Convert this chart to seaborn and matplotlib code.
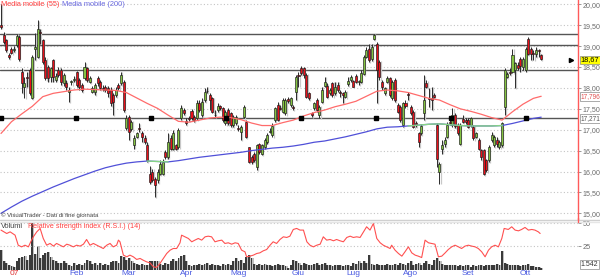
import numpy as np
import pandas as pd
import matplotlib
matplotlib.use("Agg")
import matplotlib.pyplot as plt
import seaborn as sns

# ---------------- data ----------------
opens = [19.50,19.26,19.14,18.78,18.92,18.90,19.02,19.21,18.39,18.01,18.25,18.43,17.77,18.93,18.75,19.33,19.14,18.66,18.51,18.25,
         18.66,18.20,18.44,18.43,18.11,18.12,17.91,18.14,18.20,18.39,18.19,18.07,18.23,18.47,18.15,17.91,17.91,18.23,18.15,17.99,
         18.01,17.99,17.96,17.83,17.83,18.07,18.11,18.15,17.03,17.31,17.01,16.63,16.83,17.04,16.93,
         16.79,16.63,15.95,15.99,15.83,15.79,15.95,15.95,16.47,16.35,16.79,16.55,16.63,16.59,17.27,17.47,17.21,17.27,17.45,17.31,
         17.27,17.63,17.35,17.71,17.93,17.83,17.76,17.36,17.47,17.56,17.51,17.15,17.47,17.39,17.11,17.15,17.04,16.95,17.31,17.19,
         16.58,16.35,16.42,16.11,16.66,16.43,16.59,16.71,16.94,16.87,17.23,17.59,17.52,17.43,17.39,17.73,17.59,
         17.53,17.91,18.31,18.47,18.47,18.31,17.87,17.39,17.51,17.71,17.35,17.67,18.04,18.04,17.87,18.11,17.87,18.07,17.89,17.87,
         17.79,18.09,18.19,18.16,18.29,18.15,18.15,18.33,18.74,18.94,18.68,19.18,19.06,18.62,18.15,17.87,18.15,18.23,17.75,18.19,
         17.59,17.55,17.11,17.64,17.85,17.55,17.43,17.17,16.91,16.91,17.39,18.11,17.76,17.77,
         17.83,17.11,15.99,16.53,16.66,16.83,17.19,17.11,17.35,17.11,16.67,17.25,17.23,17.23,17.11,17.07,16.83,16.75,16.51,16.51,
         16.27,16.27,16.75,16.63,16.75,16.59,16.63,17.55,18.27,18.37,18.39,18.43,18.55,18.68,18.51,18.43,19.18,18.94,18.83,18.82,
         18.90,18.78]
closes = [19.46,19.10,18.90,18.73,18.84,18.94,19.24,18.68,18.11,18.11,18.23,17.88,18.73,18.98,19.42,19.32,18.62,18.23,18.23,18.47,
          18.27,18.28,18.31,18.15,18.31,18.01,17.96,18.15,18.21,18.07,18.01,17.95,18.51,18.19,18.23,17.99,18.07,18.11,17.99,17.98,
          17.95,17.87,17.63,17.67,17.95,17.99,18.31,17.47,17.27,16.95,17.19,16.81,16.91,17.02,16.83,
          16.71,16.27,15.75,15.79,15.67,15.99,16.19,16.23,16.35,16.71,16.55,16.91,16.55,16.99,17.53,17.39,17.15,17.25,17.27,17.23,
          17.63,17.47,17.67,17.91,17.92,17.71,17.43,17.34,17.56,17.51,17.23,17.43,17.15,17.11,17.31,17.31,17.02,17.07,17.55,16.83,
          16.23,16.23,16.27,16.63,16.47,16.63,16.75,16.87,16.96,17.09,17.51,17.23,17.50,17.71,17.71,17.68,17.75,
          17.52,18.27,18.29,18.35,18.31,17.79,17.75,17.35,17.63,17.47,17.55,17.95,18.15,17.79,17.95,17.83,18.01,17.95,17.88,17.83,
          17.91,18.16,18.27,18.03,18.15,18.17,18.35,18.73,18.90,18.66,18.98,19.26,18.43,18.25,18.01,17.99,18.23,17.83,18.15,17.71,
          17.43,17.23,17.63,17.56,17.84,17.39,17.07,17.11,16.71,17.09,17.71,18.03,17.74,17.72,
          17.79,16.29,16.19,16.63,16.75,17.11,17.15,17.35,17.09,16.91,17.11,17.19,17.19,17.07,17.27,16.79,16.93,16.55,16.35,15.95,
          16.03,16.59,16.87,16.83,16.67,16.71,17.15,18.43,18.33,18.35,18.78,18.59,18.47,18.52,18.68,18.94,18.82,18.82,18.82,18.90,
          18.89,18.68]
highs = [20.00,19.34,19.18,18.84,18.98,19.00,19.30,19.26,18.47,18.27,18.39,18.47,18.79,19.31,19.62,19.42,19.18,18.74,18.55,18.51,
         18.70,18.35,18.51,18.47,18.35,18.19,18.03,18.20,18.28,18.41,18.23,18.11,18.62,18.51,18.28,18.04,18.11,18.28,18.19,18.07,
         18.07,18.04,18.01,17.87,18.03,18.11,18.39,18.19,17.35,17.35,17.23,16.87,16.95,17.15,16.97,
         16.87,16.71,16.12,16.07,15.87,16.07,16.27,16.29,16.51,16.91,16.87,16.99,16.67,17.03,17.59,17.51,17.27,17.33,17.49,17.35,
         17.71,17.71,17.75,17.99,18.03,17.87,17.79,17.47,17.63,17.59,17.55,17.47,17.51,17.43,17.35,17.35,17.11,17.11,17.59,17.23,
         16.59,16.39,16.47,16.67,16.69,16.67,16.79,16.91,17.03,17.15,17.55,17.67,17.59,17.75,17.75,17.79,17.79,
         17.59,18.31,18.39,18.52,18.51,18.35,17.91,17.43,17.67,17.75,17.59,18.03,18.27,18.11,17.99,18.15,18.15,18.15,17.95,17.91,
         17.95,18.27,18.31,18.20,18.33,18.20,18.43,18.79,18.98,19.06,19.06,19.30,19.10,18.66,18.19,18.03,18.28,18.27,18.19,18.23,
         17.63,17.59,17.67,17.71,17.91,17.59,17.47,17.21,16.95,17.13,18.31,18.19,17.99,18.03,
         17.87,17.15,16.23,16.75,16.83,17.19,17.23,17.51,17.39,17.15,17.15,17.35,17.29,17.27,17.31,17.11,16.95,16.79,16.55,16.55,
         16.31,16.63,16.95,16.87,16.83,16.75,17.19,18.47,18.39,18.47,18.94,18.63,18.63,18.74,18.74,18.98,19.22,18.98,18.90,18.98,
         18.94,18.82]
lows = [19.42,19.06,18.86,18.68,18.81,18.86,18.98,18.65,17.87,17.75,18.03,17.83,17.74,18.67,18.71,19.06,18.58,18.19,18.15,18.15,
        18.15,18.15,18.27,18.07,18.04,17.96,17.67,18.07,18.15,18.01,17.96,17.91,18.19,18.15,18.11,17.87,17.83,18.04,17.95,17.93,
        17.91,17.79,17.56,17.35,17.79,17.95,18.07,17.43,16.99,16.75,16.97,16.55,16.79,16.95,16.71,
        16.67,16.23,15.71,15.75,15.39,15.73,15.91,15.91,16.31,16.31,16.51,16.51,16.51,16.55,17.23,17.35,17.11,17.21,17.23,17.19,
        17.23,17.43,17.31,17.67,17.87,17.47,17.39,17.31,17.43,17.47,17.19,17.11,17.11,17.07,17.07,17.11,16.98,16.75,17.27,16.79,
        16.20,16.19,16.23,16.03,16.43,16.39,16.55,16.67,16.91,16.83,17.19,17.21,17.47,17.39,17.35,17.63,17.55,
        17.47,17.71,18.03,18.31,18.23,17.75,17.71,17.31,17.47,17.43,17.27,17.63,18.01,17.75,17.83,17.79,17.83,17.91,17.79,17.63,
        17.75,18.04,18.15,18.01,18.11,18.07,18.11,18.31,18.71,18.62,18.65,19.14,17.63,18.19,17.96,17.83,18.11,17.79,17.71,17.67,
        17.39,17.19,17.07,17.53,17.71,17.35,17.03,17.07,16.59,16.87,17.23,17.99,17.55,17.47,
        17.75,16.11,15.71,16.43,16.59,16.79,17.11,17.07,17.03,16.87,16.63,17.15,17.13,17.03,17.07,16.75,16.79,16.51,16.27,15.91,
        15.99,16.23,16.71,16.59,16.59,16.55,16.59,17.35,18.23,18.31,18.35,17.99,18.43,18.39,18.43,18.39,18.78,18.66,18.66,18.74,
        18.74,18.66]

volumes = [10000,4200,3300,2500,1700,1200,4200,5800,6200,6700,5000,7500,24000,7800,11700,5800,7500,8300,8800,6200,
           5000,4200,3300,3300,4200,3300,2500,1700,3300,2500,2800,2200,3300,5000,4500,2800,3300,2500,3300,2200,
           2800,2500,3700,4200,4200,3300,6700,6200,5000,5800,4200,3300,2800,2500,2800,2500,2500,4200,4200,4200,
           4200,2800,2500,3300,2800,4200,5500,4200,5800,6700,7500,4200,2500,1700,2500,2200,2800,2500,2800,3300,
           2500,2800,2200,2500,1700,2800,2200,2800,2500,4200,5800,4200,5000,3300,6200,7500,5800,2800,2500,2800,
           2500,2800,2200,2500,1700,2500,2800,2200,2500,1700,800,2500,5000,4200,3300,
           2500,3300,2800,2500,2500,2800,3300,2500,2800,3300,2200,2500,1700,2500,2200,2500,1700,2500,2500,1700,
           3300,2800,4200,3300,4200,3300,7500,2800,2500,2800,2200,2500,2500,2800,2500,2500,2800,2500,3300,2800,
           2500,3300,4200,2500,2800,3300,2500,3300,4200,2800,2500,5000,5800,4200,2800,2500,2200,2500,2200,2500,
           1700,2200,1700,2500,2200,1200,2500,1700,2500,2200,1700,2500,2500,2200,2500,2800,2500,9500,3300,2800,
           2500,2500,2200,2500,1700,2500,2500,2800,1700,1700,1200,1200,800]

ma_idx = list(range(0, 208, 4)) + [207]
ma55 = [16.91,17.19,17.38,17.56,17.79,17.87,17.91,17.95,17.97,17.96,17.95,17.94,17.89,17.76,17.63,17.51,17.35,17.20,17.18,17.23,
        17.28,17.30,17.29,17.24,17.16,17.10,17.10,17.17,17.23,17.33,17.41,17.47,17.55,17.61,17.68,17.80,17.92,17.95,17.93,17.89,
        17.82,17.75,17.71,17.60,17.50,17.44,17.37,17.29,17.23,17.43,17.61,17.75,17.80]
ma200 = [15.00,15.15,15.29,15.41,15.52,15.63,15.73,15.83,15.92,16.01,16.09,16.15,16.20,16.23,16.25,16.24,16.23,16.26,16.30,16.34,
         16.37,16.40,16.43,16.46,16.50,16.53,16.56,16.58,16.61,16.65,16.70,16.73,16.78,16.83,16.89,16.95,17.02,17.06,17.07,17.09,
         17.11,17.13,17.14,17.12,17.10,17.09,17.09,17.09,17.10,17.15,17.21,17.27,17.30]
ma200_green = [(56, 64), (156, 192)]

rsi_idx = [0,2.2,3.5,5.4,6.6,7.9,9.2,10.5,11.7,12.4,13.7,15.0,16.2,17.5,18.8,20.1,21.3,22.6,23.9,25.2,26.4,27.7,29.0,30.3,31.6,
           32.8,34.1,35.4,36.7,37.9,39.2,40.5,41.8,43.0,44.3,45.0,45.6,46.9,48.2,49.4,50.7,52.0,53.3,54.5,55.8,57.1,58.4,59.6,
           60.9,62.2,63.5,64.8,66.0,67.3,68.6,69.2,70.5,71.8,73.1,74.3,75.6,76.9,78.2,79.4,80.7,82.0,83.3,84.6,85.8,87.1,88.4,
           89.7,90.9,92.2,93.5,94.1,95.4,96.7,98.0,99.2,100.5,101.8,103.1,104.3,105.6,106.9,108.2,109.5,110.7,112.0,113.3,114.6,
           115.9,117.2,118.4,119.7,121.0,122.3,123.5,124.8,126.1,127.4,128.6,129.9,131.2,132.5,133.8,135.0,136.3,137.6,138.9,
           140.1,141.4,142.7,144.0,145.3,146.5,147.8,149.1,149.7,151.0,152.3,153.6,154.8,156.1,157.4,158.7,159.9,161.2,162.5,
           163.8,165.0,166.3,167.6,168.9,170.2,171.4,172.7,174.0,175.3,176.5,177.8,179.1,180.4,181.7,182.9,184.2,185.5,186.8,
           188.0,189.3,190.6,191.9,192.8,194.4,195.7,197.0,198.3,199.5,200.8,202.1,203.4,204.6,205.9,206.6]
rsi = [42.8,39.1,40.9,37.3,26.4,24.6,26.4,24.6,31.9,35.5,40.9,44.6,33.7,26.4,28.3,25.4,28.3,26.4,24.6,27.5,26.4,24.6,26.4,25.4,27.5,
       32.6,26.4,28.3,26.4,24.6,22.8,26.4,28.3,24.6,26.4,31.9,30.1,15.6,13.8,15.6,13.8,10.9,12.0,10.1,8.3,7.2,2.9,2.2,
       6.5,12.0,17.4,21.0,22.8,22.8,29.0,37.3,35.5,33.7,30.1,31.9,33.7,31.9,35.5,36.2,35.5,30.1,31.2,31.9,28.3,29.0,27.5,
       29.0,28.3,21.0,19.2,13.8,14.5,15.6,17.4,18.1,20.3,21.7,26.4,30.1,28.3,32.6,35.5,34.8,36.2,43.5,44.6,42.8,
       42.8,30.1,26.4,24.6,26.4,27.5,35.5,31.9,32.6,31.2,32.6,31.2,30.1,34.8,36.2,34.8,35.5,34.8,40.9,
       46.4,42.8,50.0,33.7,29.0,26.4,24.6,22.8,26.4,21.0,17.4,14.5,19.2,24.6,18.1,15.6,14.5,13.0,31.9,
       29.0,28.3,27.5,13.8,14.5,18.1,21.7,24.6,26.4,24.6,22.8,25.4,26.4,25.4,24.6,22.8,19.2,13.8,21.0,
       24.6,26.4,24.6,33.7,44.6,43.5,46.4,42.8,42.0,43.5,45.7,42.8,43.5,42.8,40.9,39.1]

h_levels = [19.28, 19.02, 18.42, 17.27]
month_pos = [5, 29, 49, 71, 91, 114, 135, 157, 179, 201]
month_lab = ["07", "Feb", "Mar", "Apr", "Mag", "Giu", "Lug", "Ago", "Set", "Ott"]
last_price, last_ma55, last_ma200, last_vol = 18.67, 17.796, 17.271, "1.542"

# ---------------- figure ----------------
sns.set_theme(style="white")
plt.rcParams['font.family'] = ['Liberation Sans', 'DejaVu Sans']
W, H = 600, 279
fig = plt.figure(figsize=(6.0, 2.79), dpi=100)
fig.patch.set_facecolor("white")

xl = (-0.38, 221.1)
ax = fig.add_axes([0, 60 / H, 578 / W, 219 / H])
ax.set_xlim(*xl)
ax.set_ylim(14.864, 20.103)
ax.set_facecolor("white")

n = len(opens)
idx = np.arange(n)
o = np.array(opens); c = np.array(closes); hi = np.array(highs); lo = np.array(lows)

# grid
for v in np.arange(15.0, 20.01, 0.5):
    ax.axhline(v, color="#c4c4c4", lw=0.8, ls=(0, (1, 2)), zorder=0)

# horizontal levels
for lv in h_levels:
    ax.axhline(lv, color="#555555", lw=1.0, zorder=1)
mk = np.arange(0, 208, 28.75)
ax.plot(mk, [h_levels[-1]] * len(mk), ls="none", marker="s", ms=2.6, color="black", zorder=6)

# candles: shadow, wick, body
bw = 0.78
sh = 0.45
ax.vlines(idx + sh, lo - 0.02, hi - 0.02, color="#c8c8c8", lw=0.9, zorder=2)
body_lo = np.minimum(o, c); body_h = np.maximum(np.abs(c - o), 0.018)
ax.bar(idx + sh, body_h, bottom=body_lo - 0.02, width=bw, color="#c8c8c8", lw=0, zorder=2)
ax.vlines(idx, lo, hi, color="#2a2a2a", lw=0.7, zorder=3)
cols = np.where(c >= o, "#84c341", "#e8101a")
ax.bar(idx, body_h, bottom=body_lo, width=bw, color=cols, edgecolor="#1a1a1a", lw=0.45, zorder=4)

# moving averages
dma = pd.DataFrame({"i": ma_idx, "ma55": ma55, "ma200": ma200})
sns.lineplot(data=dma, x="i", y="ma55", ax=ax, color="#ff6b6b", lw=0.9, zorder=5)
sns.lineplot(data=dma, x="i", y="ma200", ax=ax, color="#5050d8", lw=0.9, zorder=5)
for a, b in ma200_green:
    sub = dma[(dma.i >= a) & (dma.i <= b)]
    sns.lineplot(data=sub, x="i", y="ma200", ax=ax, color="#86d486", lw=1.0, zorder=5)

ax.set_xlabel(""); ax.set_ylabel("")
ax.set_xticks([])
ax.yaxis.tick_right()
yt = np.arange(15.0, 20.01, 0.5)
ax.set_yticks(yt)
ax.set_yticklabels([f"{v:.2f}".replace(".", ",") for v in yt], fontsize=5.1, color="#6a6a6a")
ax.tick_params(axis="y", length=2.5, width=0.6, color="#888888", pad=1.0)
for s in ["left", "top", "bottom"]:
    ax.spines[s].set_visible(False)
ax.spines["right"].set_color("#ff5a5a")
ax.spines["right"].set_linewidth(1.0)

ax.plot([218.6], [last_price], marker=">", ms=3, color="black", clip_on=False, zorder=7)
ytr = ax.get_yaxis_transform()
ax.text(1.005, last_price, f"{last_price:.2f}".replace(".", ","), transform=ytr, fontsize=5.3, color="black",
        va="center", ha="left", bbox=dict(boxstyle="square,pad=0.12", fc="#ffff00", ec="#888888", lw=0.5), zorder=8)
ax.text(1.004, last_ma55, f"{last_ma55:.3f}".replace(".", ","), transform=ytr, fontsize=4.7, color="#e05050",
        va="center", ha="left", bbox=dict(boxstyle="square,pad=0.1", fc="white", ec="#888888", lw=0.5), zorder=8)
ax.text(1.004, last_ma200, f"{last_ma200:.3f}".replace(".", ","), transform=ytr, fontsize=4.7, color="#555555",
        va="center", ha="left", bbox=dict(boxstyle="square,pad=0.1", fc="white", ec="#888888", lw=0.5), zorder=8)

# ---------------- lower panel ----------------
ax2 = fig.add_axes([0, 9.5 / H, 578 / W, 47.5 / H])
ax2.set_xlim(*xl)
ax2.set_facecolor("white")
axv = ax2.twinx()
axv.set_ylim(0, 23750)
vi = np.arange(len(volumes))
axv.bar(vi + 0.45, volumes, width=0.7, color="#c0c0c0", lw=0, zorder=1)
axv.bar(vi, volumes, width=0.7, color="#3a3a3a", lw=0, zorder=2)
axv.set_yticks([])
for s in axv.spines.values():
    s.set_visible(False)

ax2.set_zorder(axv.get_zorder() + 1)
ax2.patch.set_visible(False)
ax2.set_ylim(0, 51.6)
for v in (25, 50):
    ax2.axhline(v, color="#c4c4c4", lw=0.8, ls=(0, (1, 2)), zorder=0)
drsi = pd.DataFrame({"i": rsi_idx, "rsi": rsi})
sns.lineplot(data=drsi, x="i", y="rsi", ax=ax2, color="#ff5050", lw=0.8)
ax2.set_xlabel(""); ax2.set_ylabel("")
ax2.yaxis.tick_right()
ax2.set_yticks([25, 50])
ax2.set_yticklabels(["25", "50"], fontsize=5.3, color="#6a6a6a")
ax2.tick_params(axis="y", length=2.5, width=0.6, color="#888888", pad=1.0)
ax2.set_xticks(month_pos)
ax2.set_xticklabels(month_lab, fontsize=6.0)
for t, lab in zip(ax2.get_xticklabels(), month_lab):
    t.set_color("#e03030" if lab == "07" else "#4a5ae0")
ax2.tick_params(axis="x", length=0, pad=0.3)
for s in ax2.spines.values():
    s.set_visible(False)
ax2.text(1.005, 0.03, last_vol, transform=ax2.transAxes, fontsize=5.0, color="#333333", va="bottom", ha="left",
         bbox=dict(boxstyle="square,pad=0.12", fc="white", ec="#888888", lw=0.5))

# separators and captions
fig.add_artist(plt.Line2D([0, 1], [1 - 219.5 / H] * 2, color="#d0d0d0", lw=1.0))
fig.add_artist(plt.Line2D([0, 1], [1 - 221.5 / H] * 2, color="#e6e6e6", lw=1.0))
fig.add_artist(plt.Line2D([578 / W] * 2, [1 - 222 / H, 1 - 218 / H], color="#ff5a5a", lw=1.0))
fig.text(0.002, 1 - 4.5 / H, "Media mobile (55)", fontsize=5.3, color="#ff4040", va="center", ha="left")
fig.text(62 / W, 1 - 4.5 / H, "Media mobile (200)", fontsize=5.3, color="#6a6ae0", va="center", ha="left")
fig.text(0.002, 1 - 215 / H, "\u00a9 VisualTrader - Dati di fine giornata", fontsize=4.3, color="#404040",
         va="center", ha="left")
fig.text(0.002, 1 - 227 / H, "Volumi", fontsize=5.3, color="#404040", va="center", ha="left")
fig.text(28 / W, 1 - 227 / H, "Relative strength index (R.S.I.) (14)", fontsize=5.1, color="#ff4040",
         va="center", ha="left")

fig.savefig("out.png", dpi=100, facecolor="white")
